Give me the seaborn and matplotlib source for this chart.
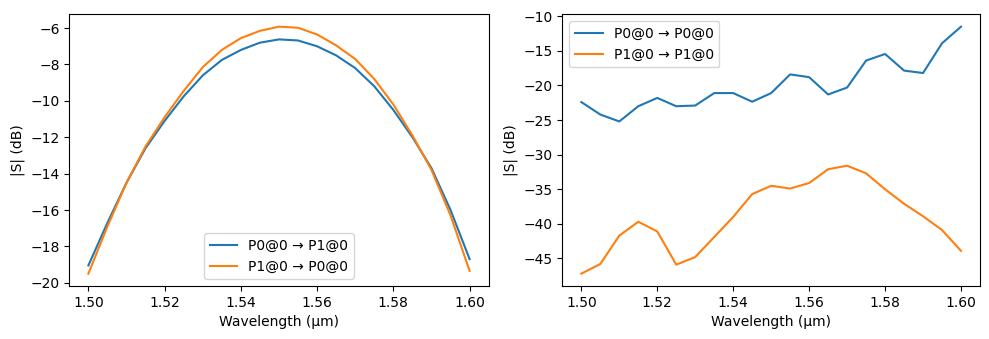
import numpy as np
import pandas as pd
import matplotlib
matplotlib.use("Agg")
import matplotlib.pyplot as plt
import seaborn as sns

wavelength = [1.500, 1.505, 1.510, 1.515, 1.520, 1.525, 1.530, 1.535, 1.540, 1.545,
              1.550, 1.555, 1.560, 1.565, 1.570, 1.575, 1.580, 1.585, 1.590, 1.595, 1.600]

# Left panel: transmission
s_p0_p1 = [-19.05, -16.7, -14.5, -12.6, -11.1, -9.75, -8.6, -7.75, -7.2, -6.8,
           -6.62, -6.68, -7.0, -7.5, -8.2, -9.2, -10.5, -12.0, -13.7, -16.0, -18.7]
s_p1_p0 = [-19.5, -16.9, -14.5, -12.5, -10.9, -9.45, -8.15, -7.2, -6.55, -6.15,
           -5.92, -5.98, -6.35, -6.95, -7.7, -8.8, -10.2, -11.9, -13.8, -16.3, -19.35]

# Right panel: reflection
s_p0_p0 = [-22.4, -24.2, -25.2, -23.0, -21.8, -23.0, -22.9, -21.1, -21.1, -22.35,
           -21.1, -18.4, -18.8, -21.3, -20.3, -16.4, -15.45, -17.85, -18.2, -13.9, -11.5]
s_p1_p1 = [-47.2, -45.8, -41.7, -39.7, -41.1, -45.9, -44.8, -41.9, -39.0, -35.7,
           -34.5, -34.9, -34.1, -32.1, -31.6, -32.7, -35.0, -37.1, -38.9, -40.9, -43.9]

labels_left = ["P0@0 → P1@0", "P1@0 → P0@0"]
labels_right = ["P0@0 → P0@0", "P1@0 → P1@0"]

df_left = pd.DataFrame({
    "wl": wavelength * 2,
    "s": s_p0_p1 + s_p1_p0,
    "label": [labels_left[0]] * len(wavelength) + [labels_left[1]] * len(wavelength),
})
df_right = pd.DataFrame({
    "wl": wavelength * 2,
    "s": s_p0_p0 + s_p1_p1,
    "label": [labels_right[0]] * len(wavelength) + [labels_right[1]] * len(wavelength),
})

palette = ["#1f77b4", "#ff7f0e"]

fig, (ax1, ax2) = plt.subplots(1, 2, figsize=(9.89, 3.39), dpi=100)
ax1.set_position([0.0701, 0.1563, 0.424, 0.8015])
ax2.set_position([0.5686, 0.1563, 0.4223, 0.8015])

sns.lineplot(data=df_left, x="wl", y="s", hue="label", palette=palette, ax=ax1)
sns.lineplot(data=df_right, x="wl", y="s", hue="label", palette=palette, ax=ax2)

for ax in (ax1, ax2):
    ax.set_xlabel("Wavelength (µm)")
    ax.set_ylabel("|S| (dB)")
    ax.set_xticks([1.50, 1.52, 1.54, 1.56, 1.58, 1.60])

ax1.legend(loc="lower center", title=None)
ax2.legend(loc="upper left", title=None)

fig.savefig("out.png", dpi=100)
